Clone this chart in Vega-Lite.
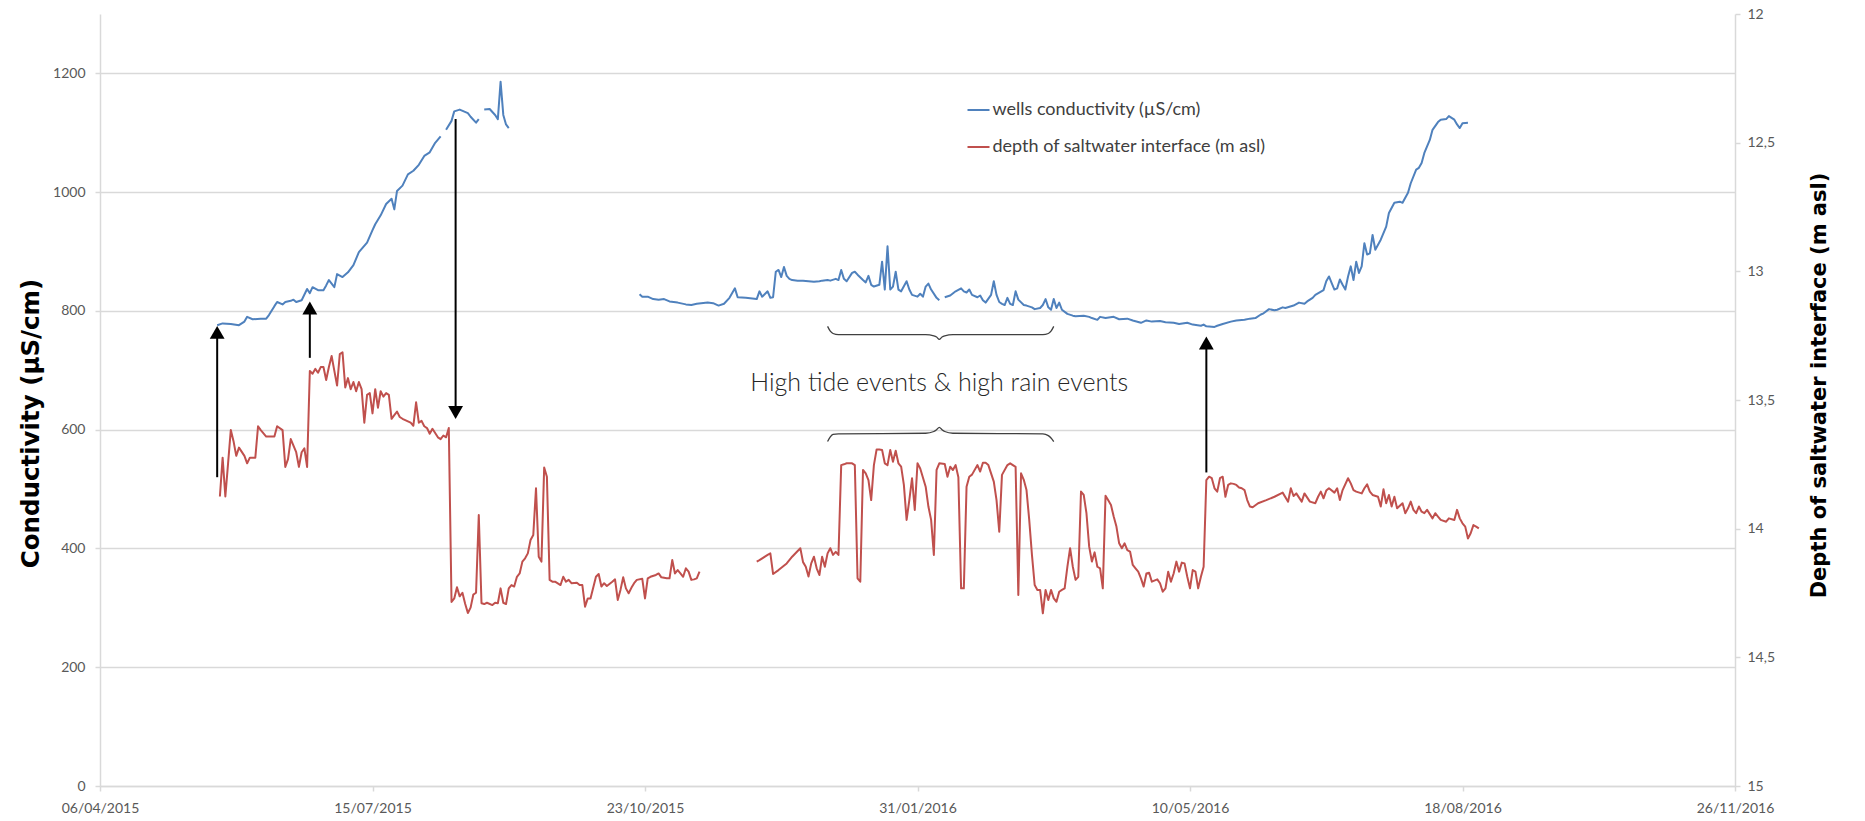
{
  "$schema": "https://vega.github.io/schema/vega-lite/v6.json",
  "width": 1635,
  "height": 772,
  "autosize": {"type": "none"},
  "padding": {"left": 100, "top": 14, "right": 130, "bottom": 35},
  "background": "#ffffff",
  "config": {"view": {"stroke": null}, "font": "Lato", "axis": {"labelFont": "Lato", "titleFont": "DejaVu Sans"}},
  "datasets": {
    "cond": [
      {"date":"2015-05-19","cond":776,"seg":"a"},{"date":"2015-05-21","cond":779,"seg":"a"},{"date":"2015-05-24","cond":778,"seg":"a"},{"date":"2015-05-27","cond":776,"seg":"a"},{"date":"2015-05-29","cond":782,"seg":"a"},{"date":"2015-05-30","cond":790,"seg":"a"},{"date":"2015-06-01","cond":786,"seg":"a"},{"date":"2015-06-04","cond":787,"seg":"a"},{"date":"2015-06-06","cond":787,"seg":"a"},{"date":"2015-06-07","cond":793,"seg":"a"},{"date":"2015-06-09","cond":808,"seg":"a"},{"date":"2015-06-10","cond":815,"seg":"a"},{"date":"2015-06-12","cond":811,"seg":"a"},{"date":"2015-06-13","cond":815,"seg":"a"},{"date":"2015-06-15","cond":817,"seg":"a"},{"date":"2015-06-16","cond":819,"seg":"a"},{"date":"2015-06-17","cond":815,"seg":"a"},{"date":"2015-06-19","cond":818,"seg":"a"},{"date":"2015-06-21","cond":837,"seg":"a"},{"date":"2015-06-22","cond":830,"seg":"a"},{"date":"2015-06-23","cond":840,"seg":"a"},{"date":"2015-06-25","cond":835,"seg":"a"},{"date":"2015-06-27","cond":835,"seg":"a"},{"date":"2015-06-28","cond":843,"seg":"a"},{"date":"2015-06-29","cond":852,"seg":"a"},{"date":"2015-07-01","cond":840,"seg":"a"},{"date":"2015-07-02","cond":862,"seg":"a"},{"date":"2015-07-04","cond":857,"seg":"a"},{"date":"2015-07-06","cond":865,"seg":"a"},{"date":"2015-07-08","cond":877,"seg":"a"},{"date":"2015-07-10","cond":899,"seg":"a"},{"date":"2015-07-13","cond":915,"seg":"a"},{"date":"2015-07-15","cond":936,"seg":"a"},{"date":"2015-07-16","cond":946,"seg":"a"},{"date":"2015-07-18","cond":961,"seg":"a"},{"date":"2015-07-20","cond":980,"seg":"a"},{"date":"2015-07-22","cond":989,"seg":"a"},{"date":"2015-07-23","cond":971,"seg":"a"},{"date":"2015-07-24","cond":1002,"seg":"a"},{"date":"2015-07-26","cond":1011,"seg":"a"},{"date":"2015-07-28","cond":1030,"seg":"a"},{"date":"2015-07-30","cond":1036,"seg":"a"},{"date":"2015-08-01","cond":1046,"seg":"a"},{"date":"2015-08-03","cond":1061,"seg":"a"},{"date":"2015-08-05","cond":1067,"seg":"a"},{"date":"2015-08-07","cond":1083,"seg":"a"},{"date":"2015-08-09","cond":1094,"seg":"a"},
      {"date":"2015-08-11","cond":1105,"seg":"b"},{"date":"2015-08-13","cond":1120,"seg":"b"},{"date":"2015-08-14","cond":1136,"seg":"b"},{"date":"2015-08-16","cond":1139,"seg":"b"},{"date":"2015-08-19","cond":1133,"seg":"b"},{"date":"2015-08-20","cond":1127,"seg":"b"},{"date":"2015-08-22","cond":1117,"seg":"b"},{"date":"2015-08-23","cond":1123,"seg":"b"},
      {"date":"2015-08-25","cond":1139,"seg":"c"},{"date":"2015-08-27","cond":1140,"seg":"c"},{"date":"2015-08-29","cond":1130,"seg":"c"},{"date":"2015-08-30","cond":1123,"seg":"c"},{"date":"2015-08-31","cond":1186,"seg":"c"},{"date":"2015-09-01","cond":1130,"seg":"c"},{"date":"2015-09-02","cond":1114,"seg":"c"},{"date":"2015-09-03","cond":1108,"seg":"c"},
      {"date":"2015-10-21","cond":828,"seg":"d"},{"date":"2015-10-22","cond":824,"seg":"d"},{"date":"2015-10-24","cond":824,"seg":"d"},{"date":"2015-10-26","cond":820,"seg":"d"},{"date":"2015-10-28","cond":819,"seg":"d"},{"date":"2015-10-30","cond":820,"seg":"d"},{"date":"2015-11-01","cond":816,"seg":"d"},{"date":"2015-11-04","cond":814,"seg":"d"},{"date":"2015-11-07","cond":811,"seg":"d"},{"date":"2015-11-09","cond":810,"seg":"d"},{"date":"2015-11-11","cond":812,"seg":"d"},{"date":"2015-11-15","cond":814,"seg":"d"},{"date":"2015-11-17","cond":813,"seg":"d"},{"date":"2015-11-19","cond":809,"seg":"d"},{"date":"2015-11-21","cond":812,"seg":"d"},{"date":"2015-11-23","cond":822,"seg":"d"},{"date":"2015-11-25","cond":838,"seg":"d"},{"date":"2015-11-26","cond":823,"seg":"d"},{"date":"2015-11-29","cond":822,"seg":"d"},{"date":"2015-12-03","cond":820,"seg":"d"},{"date":"2015-12-04","cond":833,"seg":"d"},{"date":"2015-12-05","cond":824,"seg":"d"},{"date":"2015-12-07","cond":833,"seg":"d"},{"date":"2015-12-08","cond":822,"seg":"d"},{"date":"2015-12-09","cond":823,"seg":"d"},{"date":"2015-12-10","cond":866,"seg":"d"},{"date":"2015-12-11","cond":869,"seg":"d"},{"date":"2015-12-12","cond":857,"seg":"d"},{"date":"2015-12-13","cond":874,"seg":"d"},{"date":"2015-12-14","cond":859,"seg":"d"},{"date":"2015-12-15","cond":854,"seg":"d"},{"date":"2015-12-16","cond":852,"seg":"d"},{"date":"2015-12-18","cond":851,"seg":"d"},{"date":"2015-12-20","cond":851,"seg":"d"},{"date":"2015-12-22","cond":850,"seg":"d"},{"date":"2015-12-24","cond":849,"seg":"d"},{"date":"2015-12-26","cond":850,"seg":"d"},{"date":"2015-12-27","cond":851,"seg":"d"},{"date":"2015-12-29","cond":852,"seg":"d"},{"date":"2015-12-30","cond":851,"seg":"d"},{"date":"2016-01-01","cond":854,"seg":"d"},{"date":"2016-01-02","cond":852,"seg":"d"},{"date":"2016-01-03","cond":869,"seg":"d"},{"date":"2016-01-04","cond":854,"seg":"d"},{"date":"2016-01-05","cond":850,"seg":"d"},{"date":"2016-01-07","cond":864,"seg":"d"},{"date":"2016-01-08","cond":866,"seg":"d"},{"date":"2016-01-09","cond":861,"seg":"d"},{"date":"2016-01-11","cond":852,"seg":"d"},{"date":"2016-01-12","cond":848,"seg":"d"},{"date":"2016-01-13","cond":859,"seg":"d"},{"date":"2016-01-14","cond":844,"seg":"d"},{"date":"2016-01-15","cond":841,"seg":"d"},{"date":"2016-01-17","cond":844,"seg":"d"},{"date":"2016-01-18","cond":883,"seg":"d"},{"date":"2016-01-19","cond":836,"seg":"d"},{"date":"2016-01-20","cond":909,"seg":"d"},{"date":"2016-01-21","cond":836,"seg":"d"},{"date":"2016-01-22","cond":841,"seg":"d"},{"date":"2016-01-23","cond":866,"seg":"d"},{"date":"2016-01-24","cond":836,"seg":"d"},{"date":"2016-01-25","cond":833,"seg":"d"},{"date":"2016-01-27","cond":850,"seg":"d"},{"date":"2016-01-28","cond":836,"seg":"d"},{"date":"2016-01-29","cond":827,"seg":"d"},{"date":"2016-01-31","cond":824,"seg":"d"},{"date":"2016-02-01","cond":829,"seg":"d"},{"date":"2016-02-02","cond":824,"seg":"d"},{"date":"2016-02-03","cond":841,"seg":"d"},{"date":"2016-02-04","cond":846,"seg":"d"},{"date":"2016-02-05","cond":836,"seg":"d"},{"date":"2016-02-07","cond":822,"seg":"d"},{"date":"2016-02-08","cond":818,"seg":"d"},
      {"date":"2016-02-10","cond":823,"seg":"e"},{"date":"2016-02-12","cond":826,"seg":"e"},{"date":"2016-02-14","cond":833,"seg":"e"},{"date":"2016-02-16","cond":838,"seg":"e"},{"date":"2016-02-17","cond":833,"seg":"e"},{"date":"2016-02-18","cond":831,"seg":"e"},{"date":"2016-02-19","cond":836,"seg":"e"},{"date":"2016-02-20","cond":827,"seg":"e"},{"date":"2016-02-22","cond":823,"seg":"e"},{"date":"2016-02-23","cond":826,"seg":"e"},{"date":"2016-02-24","cond":818,"seg":"e"},{"date":"2016-02-25","cond":814,"seg":"e"},{"date":"2016-02-27","cond":827,"seg":"e"},{"date":"2016-02-28","cond":850,"seg":"e"},{"date":"2016-02-29","cond":827,"seg":"e"},{"date":"2016-03-01","cond":815,"seg":"e"},{"date":"2016-03-02","cond":812,"seg":"e"},{"date":"2016-03-03","cond":810,"seg":"e"},{"date":"2016-03-04","cond":822,"seg":"e"},{"date":"2016-03-05","cond":812,"seg":"e"},{"date":"2016-03-06","cond":810,"seg":"e"},{"date":"2016-03-07","cond":833,"seg":"e"},{"date":"2016-03-08","cond":819,"seg":"e"},{"date":"2016-03-10","cond":810,"seg":"e"},{"date":"2016-03-11","cond":809,"seg":"e"},{"date":"2016-03-13","cond":806,"seg":"e"},{"date":"2016-03-14","cond":803,"seg":"e"},{"date":"2016-03-16","cond":805,"seg":"e"},{"date":"2016-03-17","cond":810,"seg":"e"},{"date":"2016-03-18","cond":820,"seg":"e"},{"date":"2016-03-19","cond":806,"seg":"e"},{"date":"2016-03-20","cond":802,"seg":"e"},{"date":"2016-03-21","cond":820,"seg":"e"},{"date":"2016-03-22","cond":805,"seg":"e"},{"date":"2016-03-23","cond":814,"seg":"e"},{"date":"2016-03-24","cond":802,"seg":"e"},{"date":"2016-03-26","cond":795,"seg":"e"},{"date":"2016-03-28","cond":792,"seg":"e"},{"date":"2016-03-29","cond":791,"seg":"e"},{"date":"2016-04-01","cond":792,"seg":"e"},{"date":"2016-04-03","cond":790,"seg":"e"},{"date":"2016-04-04","cond":788,"seg":"e"},{"date":"2016-04-06","cond":785,"seg":"e"},{"date":"2016-04-07","cond":790,"seg":"e"},{"date":"2016-04-09","cond":788,"seg":"e"},{"date":"2016-04-12","cond":790,"seg":"e"},{"date":"2016-04-14","cond":786,"seg":"e"},{"date":"2016-04-17","cond":787,"seg":"e"},{"date":"2016-04-19","cond":784,"seg":"e"},{"date":"2016-04-22","cond":780,"seg":"e"},{"date":"2016-04-24","cond":784,"seg":"e"},{"date":"2016-04-26","cond":782,"seg":"e"},{"date":"2016-04-29","cond":783,"seg":"e"},{"date":"2016-05-01","cond":781,"seg":"e"},{"date":"2016-05-04","cond":780,"seg":"e"},{"date":"2016-05-06","cond":778,"seg":"e"},{"date":"2016-05-09","cond":780,"seg":"e"},{"date":"2016-05-11","cond":777,"seg":"e"},{"date":"2016-05-14","cond":775,"seg":"e"},{"date":"2016-05-15","cond":777,"seg":"e"},{"date":"2016-05-16","cond":774,"seg":"e"},{"date":"2016-05-19","cond":773,"seg":"e"},{"date":"2016-05-20","cond":775,"seg":"e"},{"date":"2016-05-22","cond":778,"seg":"e"},{"date":"2016-05-25","cond":782,"seg":"e"},{"date":"2016-05-27","cond":784,"seg":"e"},{"date":"2016-05-30","cond":785,"seg":"e"},{"date":"2016-06-01","cond":787,"seg":"e"},{"date":"2016-06-03","cond":788,"seg":"e"},{"date":"2016-06-05","cond":794,"seg":"e"},{"date":"2016-06-06","cond":796,"seg":"e"},{"date":"2016-06-08","cond":803,"seg":"e"},{"date":"2016-06-10","cond":801,"seg":"e"},{"date":"2016-06-11","cond":802,"seg":"e"},{"date":"2016-06-13","cond":806,"seg":"e"},{"date":"2016-06-14","cond":805,"seg":"e"},{"date":"2016-06-17","cond":809,"seg":"e"},{"date":"2016-06-19","cond":814,"seg":"e"},{"date":"2016-06-21","cond":812,"seg":"e"},{"date":"2016-06-22","cond":816,"seg":"e"},{"date":"2016-06-24","cond":822,"seg":"e"},{"date":"2016-06-25","cond":827,"seg":"e"},{"date":"2016-06-28","cond":835,"seg":"e"},{"date":"2016-06-29","cond":850,"seg":"e"},{"date":"2016-06-30","cond":858,"seg":"e"},{"date":"2016-07-01","cond":847,"seg":"e"},{"date":"2016-07-02","cond":836,"seg":"e"},{"date":"2016-07-03","cond":838,"seg":"e"},{"date":"2016-07-04","cond":853,"seg":"e"},{"date":"2016-07-05","cond":844,"seg":"e"},{"date":"2016-07-06","cond":836,"seg":"e"},{"date":"2016-07-07","cond":858,"seg":"e"},{"date":"2016-07-08","cond":875,"seg":"e"},{"date":"2016-07-09","cond":852,"seg":"e"},{"date":"2016-07-10","cond":883,"seg":"e"},{"date":"2016-07-11","cond":864,"seg":"e"},{"date":"2016-07-12","cond":875,"seg":"e"},{"date":"2016-07-13","cond":914,"seg":"e"},{"date":"2016-07-14","cond":895,"seg":"e"},{"date":"2016-07-15","cond":897,"seg":"e"},{"date":"2016-07-16","cond":928,"seg":"e"},{"date":"2016-07-17","cond":903,"seg":"e"},{"date":"2016-07-19","cond":920,"seg":"e"},{"date":"2016-07-21","cond":942,"seg":"e"},{"date":"2016-07-22","cond":965,"seg":"e"},{"date":"2016-07-24","cond":982,"seg":"e"},{"date":"2016-07-26","cond":984,"seg":"e"},{"date":"2016-07-27","cond":982,"seg":"e"},{"date":"2016-07-29","cond":999,"seg":"e"},{"date":"2016-07-30","cond":1015,"seg":"e"},{"date":"2016-08-01","cond":1038,"seg":"e"},{"date":"2016-08-02","cond":1041,"seg":"e"},{"date":"2016-08-03","cond":1049,"seg":"e"},{"date":"2016-08-04","cond":1066,"seg":"e"},{"date":"2016-08-06","cond":1088,"seg":"e"},{"date":"2016-08-07","cond":1105,"seg":"e"},{"date":"2016-08-09","cond":1118,"seg":"e"},{"date":"2016-08-10","cond":1122,"seg":"e"},{"date":"2016-08-12","cond":1123,"seg":"e"},{"date":"2016-08-13","cond":1128,"seg":"e"},{"date":"2016-08-15","cond":1122,"seg":"e"},{"date":"2016-08-16","cond":1114,"seg":"e"},{"date":"2016-08-17","cond":1108,"seg":"e"},{"date":"2016-08-18","cond":1116,"seg":"e"},{"date":"2016-08-20","cond":1117,"seg":"e"}
    ],
    "depth": [
      {"date":"2015-05-20","depth":13.875,"seg":"a"},{"date":"2015-05-21","depth":13.724,"seg":"a"},{"date":"2015-05-22","depth":13.875,"seg":"a"},{"date":"2015-05-23","depth":13.746,"seg":"a"},{"date":"2015-05-24","depth":13.617,"seg":"a"},{"date":"2015-05-25","depth":13.66,"seg":"a"},{"date":"2015-05-26","depth":13.717,"seg":"a"},{"date":"2015-05-27","depth":13.685,"seg":"a"},{"date":"2015-05-29","depth":13.717,"seg":"a"},{"date":"2015-05-30","depth":13.746,"seg":"a"},{"date":"2015-05-31","depth":13.724,"seg":"a"},{"date":"2015-06-02","depth":13.724,"seg":"a"},{"date":"2015-06-03","depth":13.602,"seg":"a"},{"date":"2015-06-04","depth":13.617,"seg":"a"},{"date":"2015-06-06","depth":13.642,"seg":"a"},{"date":"2015-06-07","depth":13.642,"seg":"a"},{"date":"2015-06-09","depth":13.642,"seg":"a"},{"date":"2015-06-10","depth":13.602,"seg":"a"},{"date":"2015-06-12","depth":13.617,"seg":"a"},{"date":"2015-06-13","depth":13.76,"seg":"a"},{"date":"2015-06-14","depth":13.73,"seg":"a"},{"date":"2015-06-15","depth":13.652,"seg":"a"},{"date":"2015-06-17","depth":13.703,"seg":"a"},{"date":"2015-06-18","depth":13.76,"seg":"a"},{"date":"2015-06-19","depth":13.703,"seg":"a"},{"date":"2015-06-20","depth":13.688,"seg":"a"},{"date":"2015-06-21","depth":13.76,"seg":"a"},{"date":"2015-06-22","depth":13.387,"seg":"a"},{"date":"2015-06-23","depth":13.398,"seg":"a"},{"date":"2015-06-24","depth":13.379,"seg":"a"},{"date":"2015-06-25","depth":13.394,"seg":"a"},{"date":"2015-06-26","depth":13.372,"seg":"a"},{"date":"2015-06-27","depth":13.372,"seg":"a"},{"date":"2015-06-28","depth":13.422,"seg":"a"},{"date":"2015-06-29","depth":13.372,"seg":"a"},{"date":"2015-06-30","depth":13.329,"seg":"a"},{"date":"2015-07-01","depth":13.387,"seg":"a"},{"date":"2015-07-02","depth":13.444,"seg":"a"},{"date":"2015-07-03","depth":13.322,"seg":"a"},{"date":"2015-07-04","depth":13.315,"seg":"a"},{"date":"2015-07-05","depth":13.451,"seg":"a"},{"date":"2015-07-06","depth":13.415,"seg":"a"},{"date":"2015-07-07","depth":13.458,"seg":"a"},{"date":"2015-07-08","depth":13.43,"seg":"a"},{"date":"2015-07-09","depth":13.466,"seg":"a"},{"date":"2015-07-10","depth":13.43,"seg":"a"},{"date":"2015-07-11","depth":13.458,"seg":"a"},{"date":"2015-07-12","depth":13.588,"seg":"a"},{"date":"2015-07-13","depth":13.48,"seg":"a"},{"date":"2015-07-14","depth":13.473,"seg":"a"},{"date":"2015-07-15","depth":13.552,"seg":"a"},{"date":"2015-07-16","depth":13.458,"seg":"a"},{"date":"2015-07-17","depth":13.53,"seg":"a"},{"date":"2015-07-18","depth":13.466,"seg":"a"},{"date":"2015-07-19","depth":13.487,"seg":"a"},{"date":"2015-07-20","depth":13.473,"seg":"a"},{"date":"2015-07-21","depth":13.48,"seg":"a"},{"date":"2015-07-22","depth":13.573,"seg":"a"},{"date":"2015-07-23","depth":13.559,"seg":"a"},{"date":"2015-07-24","depth":13.545,"seg":"a"},{"date":"2015-07-25","depth":13.566,"seg":"a"},{"date":"2015-07-26","depth":13.573,"seg":"a"},{"date":"2015-07-27","depth":13.578,"seg":"a"},{"date":"2015-07-29","depth":13.588,"seg":"a"},{"date":"2015-07-30","depth":13.6,"seg":"a"},{"date":"2015-07-31","depth":13.509,"seg":"a"},{"date":"2015-08-01","depth":13.588,"seg":"a"},{"date":"2015-08-02","depth":13.581,"seg":"a"},{"date":"2015-08-03","depth":13.602,"seg":"a"},{"date":"2015-08-04","depth":13.609,"seg":"a"},{"date":"2015-08-05","depth":13.631,"seg":"a"},{"date":"2015-08-06","depth":13.612,"seg":"a"},{"date":"2015-08-08","depth":13.645,"seg":"a"},{"date":"2015-08-09","depth":13.652,"seg":"a"},{"date":"2015-08-10","depth":13.638,"seg":"a"},{"date":"2015-08-11","depth":13.645,"seg":"a"},{"date":"2015-08-12","depth":13.609,"seg":"a"},{"date":"2015-08-13","depth":14.285,"seg":"a"},{"date":"2015-08-14","depth":14.271,"seg":"a"},{"date":"2015-08-15","depth":14.228,"seg":"a"},{"date":"2015-08-16","depth":14.263,"seg":"a"},{"date":"2015-08-17","depth":14.249,"seg":"a"},{"date":"2015-08-18","depth":14.292,"seg":"a"},{"date":"2015-08-19","depth":14.328,"seg":"a"},{"date":"2015-08-20","depth":14.307,"seg":"a"},{"date":"2015-08-21","depth":14.256,"seg":"a"},{"date":"2015-08-22","depth":14.249,"seg":"a"},{"date":"2015-08-23","depth":13.947,"seg":"a"},{"date":"2015-08-24","depth":14.29,"seg":"a"},{"date":"2015-08-25","depth":14.293,"seg":"a"},{"date":"2015-08-26","depth":14.288,"seg":"a"},{"date":"2015-08-28","depth":14.297,"seg":"a"},{"date":"2015-08-29","depth":14.288,"seg":"a"},{"date":"2015-08-30","depth":14.29,"seg":"a"},{"date":"2015-08-31","depth":14.232,"seg":"a"},{"date":"2015-09-01","depth":14.288,"seg":"a"},{"date":"2015-09-02","depth":14.293,"seg":"a"},{"date":"2015-09-03","depth":14.232,"seg":"a"},{"date":"2015-09-04","depth":14.219,"seg":"a"},{"date":"2015-09-05","depth":14.225,"seg":"a"},{"date":"2015-09-06","depth":14.187,"seg":"a"},{"date":"2015-09-07","depth":14.174,"seg":"a"},{"date":"2015-09-08","depth":14.128,"seg":"a"},{"date":"2015-09-09","depth":14.115,"seg":"a"},{"date":"2015-09-10","depth":14.096,"seg":"a"},{"date":"2015-09-11","depth":14.044,"seg":"a"},{"date":"2015-09-12","depth":14.025,"seg":"a"},{"date":"2015-09-13","depth":13.843,"seg":"a"},{"date":"2015-09-14","depth":14.109,"seg":"a"},{"date":"2015-09-15","depth":14.128,"seg":"a"},{"date":"2015-09-16","depth":13.762,"seg":"a"},{"date":"2015-09-17","depth":13.798,"seg":"a"},{"date":"2015-09-18","depth":14.199,"seg":"a"},{"date":"2015-09-19","depth":14.206,"seg":"a"},{"date":"2015-09-20","depth":14.206,"seg":"a"},{"date":"2015-09-22","depth":14.219,"seg":"a"},{"date":"2015-09-23","depth":14.187,"seg":"a"},{"date":"2015-09-24","depth":14.206,"seg":"a"},{"date":"2015-09-25","depth":14.199,"seg":"a"},{"date":"2015-09-26","depth":14.212,"seg":"a"},{"date":"2015-09-28","depth":14.21,"seg":"a"},{"date":"2015-09-29","depth":14.219,"seg":"a"},{"date":"2015-09-30","depth":14.219,"seg":"a"},{"date":"2015-10-01","depth":14.303,"seg":"a"},{"date":"2015-10-02","depth":14.271,"seg":"a"},{"date":"2015-10-03","depth":14.271,"seg":"a"},{"date":"2015-10-05","depth":14.187,"seg":"a"},{"date":"2015-10-06","depth":14.176,"seg":"a"},{"date":"2015-10-07","depth":14.225,"seg":"a"},{"date":"2015-10-08","depth":14.212,"seg":"a"},{"date":"2015-10-09","depth":14.223,"seg":"a"},{"date":"2015-10-11","depth":14.206,"seg":"a"},{"date":"2015-10-12","depth":14.197,"seg":"a"},{"date":"2015-10-13","depth":14.277,"seg":"a"},{"date":"2015-10-14","depth":14.238,"seg":"a"},{"date":"2015-10-15","depth":14.189,"seg":"a"},{"date":"2015-10-16","depth":14.232,"seg":"a"},{"date":"2015-10-17","depth":14.251,"seg":"a"},{"date":"2015-10-18","depth":14.23,"seg":"a"},{"date":"2015-10-19","depth":14.212,"seg":"a"},{"date":"2015-10-20","depth":14.199,"seg":"a"},{"date":"2015-10-22","depth":14.195,"seg":"a"},{"date":"2015-10-23","depth":14.271,"seg":"a"},{"date":"2015-10-24","depth":14.193,"seg":"a"},{"date":"2015-10-25","depth":14.187,"seg":"a"},{"date":"2015-10-27","depth":14.18,"seg":"a"},{"date":"2015-10-28","depth":14.174,"seg":"a"},{"date":"2015-10-29","depth":14.189,"seg":"a"},{"date":"2015-10-31","depth":14.193,"seg":"a"},{"date":"2015-11-01","depth":14.193,"seg":"a"},{"date":"2015-11-02","depth":14.122,"seg":"a"},{"date":"2015-11-03","depth":14.174,"seg":"a"},{"date":"2015-11-04","depth":14.161,"seg":"a"},{"date":"2015-11-05","depth":14.174,"seg":"a"},{"date":"2015-11-06","depth":14.187,"seg":"a"},{"date":"2015-11-07","depth":14.154,"seg":"a"},{"date":"2015-11-08","depth":14.167,"seg":"a"},{"date":"2015-11-09","depth":14.199,"seg":"a"},{"date":"2015-11-10","depth":14.197,"seg":"a"},{"date":"2015-11-11","depth":14.193,"seg":"a"},{"date":"2015-11-12","depth":14.167,"seg":"a"},
      {"date":"2015-12-03","depth":14.128,"seg":"b"},{"date":"2015-12-04","depth":14.122,"seg":"b"},{"date":"2015-12-07","depth":14.102,"seg":"b"},{"date":"2015-12-08","depth":14.096,"seg":"b"},{"date":"2015-12-09","depth":14.176,"seg":"b"},{"date":"2015-12-11","depth":14.161,"seg":"b"},{"date":"2015-12-14","depth":14.135,"seg":"b"},{"date":"2015-12-16","depth":14.109,"seg":"b"},{"date":"2015-12-19","depth":14.076,"seg":"b"},{"date":"2015-12-20","depth":14.13,"seg":"b"},{"date":"2015-12-21","depth":14.148,"seg":"b"},{"date":"2015-12-22","depth":14.186,"seg":"b"},{"date":"2015-12-23","depth":14.135,"seg":"b"},{"date":"2015-12-24","depth":14.109,"seg":"b"},{"date":"2015-12-25","depth":14.154,"seg":"b"},{"date":"2015-12-26","depth":14.18,"seg":"b"},{"date":"2015-12-27","depth":14.109,"seg":"b"},{"date":"2015-12-28","depth":14.148,"seg":"b"},{"date":"2015-12-29","depth":14.096,"seg":"b"},{"date":"2015-12-30","depth":14.076,"seg":"b"},{"date":"2015-12-31","depth":14.102,"seg":"b"},{"date":"2016-01-01","depth":14.09,"seg":"b"},{"date":"2016-01-02","depth":14.102,"seg":"b"},{"date":"2016-01-03","depth":13.753,"seg":"b"},{"date":"2016-01-04","depth":13.75,"seg":"b"},{"date":"2016-01-05","depth":13.746,"seg":"b"},{"date":"2016-01-07","depth":13.746,"seg":"b"},{"date":"2016-01-08","depth":13.753,"seg":"b"},{"date":"2016-01-09","depth":14.193,"seg":"b"},{"date":"2016-01-10","depth":14.206,"seg":"b"},{"date":"2016-01-11","depth":13.772,"seg":"b"},{"date":"2016-01-12","depth":13.785,"seg":"b"},{"date":"2016-01-13","depth":13.811,"seg":"b"},{"date":"2016-01-14","depth":13.889,"seg":"b"},{"date":"2016-01-15","depth":13.753,"seg":"b"},{"date":"2016-01-16","depth":13.692,"seg":"b"},{"date":"2016-01-17","depth":13.692,"seg":"b"},{"date":"2016-01-18","depth":13.694,"seg":"b"},{"date":"2016-01-19","depth":13.746,"seg":"b"},{"date":"2016-01-20","depth":13.753,"seg":"b"},{"date":"2016-01-21","depth":13.694,"seg":"b"},{"date":"2016-01-22","depth":13.74,"seg":"b"},{"date":"2016-01-23","depth":13.697,"seg":"b"},{"date":"2016-01-24","depth":13.746,"seg":"b"},{"date":"2016-01-25","depth":13.759,"seg":"b"},{"date":"2016-01-26","depth":13.83,"seg":"b"},{"date":"2016-01-27","depth":13.966,"seg":"b"},{"date":"2016-01-28","depth":13.889,"seg":"b"},{"date":"2016-01-29","depth":13.804,"seg":"b"},{"date":"2016-01-30","depth":13.927,"seg":"b"},{"date":"2016-01-31","depth":13.746,"seg":"b"},{"date":"2016-02-01","depth":13.766,"seg":"b"},{"date":"2016-02-03","depth":13.837,"seg":"b"},{"date":"2016-02-04","depth":13.914,"seg":"b"},{"date":"2016-02-05","depth":13.966,"seg":"b"},{"date":"2016-02-06","depth":14.102,"seg":"b"},{"date":"2016-02-07","depth":13.772,"seg":"b"},{"date":"2016-02-08","depth":13.746,"seg":"b"},{"date":"2016-02-10","depth":13.749,"seg":"b"},{"date":"2016-02-11","depth":13.798,"seg":"b"},{"date":"2016-02-12","depth":13.759,"seg":"b"},{"date":"2016-02-13","depth":13.772,"seg":"b"},{"date":"2016-02-14","depth":13.753,"seg":"b"},{"date":"2016-02-15","depth":13.8,"seg":"b"},{"date":"2016-02-16","depth":14.232,"seg":"b"},{"date":"2016-02-17","depth":14.232,"seg":"b"},{"date":"2016-02-18","depth":13.837,"seg":"b"},{"date":"2016-02-19","depth":13.798,"seg":"b"},{"date":"2016-02-20","depth":13.79,"seg":"b"},{"date":"2016-02-22","depth":13.753,"seg":"b"},{"date":"2016-02-23","depth":13.778,"seg":"b"},{"date":"2016-02-24","depth":13.744,"seg":"b"},{"date":"2016-02-25","depth":13.744,"seg":"b"},{"date":"2016-02-26","depth":13.753,"seg":"b"},{"date":"2016-02-28","depth":13.817,"seg":"b"},{"date":"2016-02-29","depth":13.889,"seg":"b"},{"date":"2016-03-01","depth":14.012,"seg":"b"},{"date":"2016-03-02","depth":13.791,"seg":"b"},{"date":"2016-03-04","depth":13.753,"seg":"b"},{"date":"2016-03-05","depth":13.746,"seg":"b"},{"date":"2016-03-06","depth":13.753,"seg":"b"},{"date":"2016-03-07","depth":13.76,"seg":"b"},{"date":"2016-03-08","depth":14.258,"seg":"b"},{"date":"2016-03-09","depth":13.785,"seg":"b"},{"date":"2016-03-10","depth":13.81,"seg":"b"},{"date":"2016-03-11","depth":13.85,"seg":"b"},{"date":"2016-03-12","depth":13.966,"seg":"b"},{"date":"2016-03-13","depth":14.102,"seg":"b"},{"date":"2016-03-14","depth":14.219,"seg":"b"},{"date":"2016-03-15","depth":14.238,"seg":"b"},{"date":"2016-03-16","depth":14.238,"seg":"b"},{"date":"2016-03-17","depth":14.329,"seg":"b"},{"date":"2016-03-18","depth":14.238,"seg":"b"},{"date":"2016-03-19","depth":14.277,"seg":"b"},{"date":"2016-03-20","depth":14.238,"seg":"b"},{"date":"2016-03-21","depth":14.271,"seg":"b"},{"date":"2016-03-22","depth":14.284,"seg":"b"},{"date":"2016-03-23","depth":14.245,"seg":"b"},{"date":"2016-03-24","depth":14.238,"seg":"b"},{"date":"2016-03-25","depth":14.232,"seg":"b"},{"date":"2016-03-26","depth":14.148,"seg":"b"},{"date":"2016-03-27","depth":14.076,"seg":"b"},{"date":"2016-03-28","depth":14.148,"seg":"b"},{"date":"2016-03-29","depth":14.199,"seg":"b"},{"date":"2016-03-30","depth":14.187,"seg":"b"},{"date":"2016-03-31","depth":13.856,"seg":"b"},{"date":"2016-04-01","depth":13.869,"seg":"b"},{"date":"2016-04-02","depth":13.94,"seg":"b"},{"date":"2016-04-03","depth":14.07,"seg":"b"},{"date":"2016-04-04","depth":14.128,"seg":"b"},{"date":"2016-04-05","depth":14.092,"seg":"b"},{"date":"2016-04-06","depth":14.148,"seg":"b"},{"date":"2016-04-07","depth":14.154,"seg":"b"},{"date":"2016-04-08","depth":14.232,"seg":"b"},{"date":"2016-04-09","depth":13.872,"seg":"b"},{"date":"2016-04-10","depth":13.89,"seg":"b"},{"date":"2016-04-11","depth":13.908,"seg":"b"},{"date":"2016-04-12","depth":13.953,"seg":"b"},{"date":"2016-04-13","depth":13.992,"seg":"b"},{"date":"2016-04-14","depth":14.057,"seg":"b"},{"date":"2016-04-15","depth":14.076,"seg":"b"},{"date":"2016-04-16","depth":14.057,"seg":"b"},{"date":"2016-04-17","depth":14.083,"seg":"b"},{"date":"2016-04-18","depth":14.089,"seg":"b"},{"date":"2016-04-19","depth":14.141,"seg":"b"},{"date":"2016-04-20","depth":14.154,"seg":"b"},{"date":"2016-04-21","depth":14.167,"seg":"b"},{"date":"2016-04-22","depth":14.193,"seg":"b"},{"date":"2016-04-23","depth":14.225,"seg":"b"},{"date":"2016-04-24","depth":14.174,"seg":"b"},{"date":"2016-04-25","depth":14.171,"seg":"b"},{"date":"2016-04-26","depth":14.206,"seg":"b"},{"date":"2016-04-28","depth":14.197,"seg":"b"},{"date":"2016-04-29","depth":14.212,"seg":"b"},{"date":"2016-04-30","depth":14.245,"seg":"b"},{"date":"2016-05-01","depth":14.232,"seg":"b"},{"date":"2016-05-02","depth":14.167,"seg":"b"},{"date":"2016-05-03","depth":14.206,"seg":"b"},{"date":"2016-05-04","depth":14.174,"seg":"b"},{"date":"2016-05-05","depth":14.128,"seg":"b"},{"date":"2016-05-06","depth":14.167,"seg":"b"},{"date":"2016-05-07","depth":14.132,"seg":"b"},{"date":"2016-05-08","depth":14.135,"seg":"b"},{"date":"2016-05-09","depth":14.187,"seg":"b"},{"date":"2016-05-10","depth":14.232,"seg":"b"},{"date":"2016-05-11","depth":14.161,"seg":"b"},{"date":"2016-05-12","depth":14.167,"seg":"b"},{"date":"2016-05-13","depth":14.232,"seg":"b"},{"date":"2016-05-14","depth":14.187,"seg":"b"},{"date":"2016-05-15","depth":14.148,"seg":"b"},{"date":"2016-05-16","depth":13.811,"seg":"b"},{"date":"2016-05-17","depth":13.798,"seg":"b"},{"date":"2016-05-18","depth":13.804,"seg":"b"},{"date":"2016-05-19","depth":13.843,"seg":"b"},{"date":"2016-05-20","depth":13.856,"seg":"b"},{"date":"2016-05-21","depth":13.804,"seg":"b"},{"date":"2016-05-22","depth":13.798,"seg":"b"},{"date":"2016-05-23","depth":13.876,"seg":"b"},{"date":"2016-05-24","depth":13.83,"seg":"b"},{"date":"2016-05-25","depth":13.824,"seg":"b"},{"date":"2016-05-26","depth":13.826,"seg":"b"},{"date":"2016-05-27","depth":13.83,"seg":"b"},{"date":"2016-05-28","depth":13.84,"seg":"b"},{"date":"2016-05-29","depth":13.843,"seg":"b"},{"date":"2016-05-30","depth":13.85,"seg":"b"},{"date":"2016-05-31","depth":13.889,"seg":"b"},{"date":"2016-06-01","depth":13.914,"seg":"b"},{"date":"2016-06-02","depth":13.917,"seg":"b"},{"date":"2016-06-04","depth":13.901,"seg":"b"},{"date":"2016-06-07","depth":13.889,"seg":"b"},{"date":"2016-06-10","depth":13.876,"seg":"b"},{"date":"2016-06-13","depth":13.86,"seg":"b"},{"date":"2016-06-15","depth":13.895,"seg":"b"},{"date":"2016-06-16","depth":13.843,"seg":"b"},{"date":"2016-06-17","depth":13.873,"seg":"b"},{"date":"2016-06-18","depth":13.863,"seg":"b"},{"date":"2016-06-20","depth":13.895,"seg":"b"},{"date":"2016-06-21","depth":13.863,"seg":"b"},{"date":"2016-06-23","depth":13.895,"seg":"b"},{"date":"2016-06-25","depth":13.901,"seg":"b"},{"date":"2016-06-26","depth":13.876,"seg":"b"},{"date":"2016-06-27","depth":13.856,"seg":"b"},{"date":"2016-06-28","depth":13.882,"seg":"b"},{"date":"2016-06-29","depth":13.852,"seg":"b"},{"date":"2016-06-30","depth":13.843,"seg":"b"},{"date":"2016-07-02","depth":13.86,"seg":"b"},{"date":"2016-07-03","depth":13.843,"seg":"b"},{"date":"2016-07-04","depth":13.889,"seg":"b"},{"date":"2016-07-05","depth":13.85,"seg":"b"},{"date":"2016-07-07","depth":13.804,"seg":"b"},{"date":"2016-07-08","depth":13.824,"seg":"b"},{"date":"2016-07-09","depth":13.85,"seg":"b"},{"date":"2016-07-10","depth":13.856,"seg":"b"},{"date":"2016-07-12","depth":13.863,"seg":"b"},{"date":"2016-07-13","depth":13.843,"seg":"b"},{"date":"2016-07-14","depth":13.828,"seg":"b"},{"date":"2016-07-15","depth":13.856,"seg":"b"},{"date":"2016-07-16","depth":13.869,"seg":"b"},{"date":"2016-07-18","depth":13.876,"seg":"b"},{"date":"2016-07-19","depth":13.914,"seg":"b"},{"date":"2016-07-20","depth":13.847,"seg":"b"},{"date":"2016-07-21","depth":13.901,"seg":"b"},{"date":"2016-07-22","depth":13.869,"seg":"b"},{"date":"2016-07-23","depth":13.914,"seg":"b"},{"date":"2016-07-24","depth":13.876,"seg":"b"},{"date":"2016-07-25","depth":13.921,"seg":"b"},{"date":"2016-07-27","depth":13.901,"seg":"b"},{"date":"2016-07-28","depth":13.94,"seg":"b"},{"date":"2016-07-29","depth":13.921,"seg":"b"},{"date":"2016-07-30","depth":13.895,"seg":"b"},{"date":"2016-07-31","depth":13.927,"seg":"b"},{"date":"2016-08-01","depth":13.94,"seg":"b"},{"date":"2016-08-02","depth":13.914,"seg":"b"},{"date":"2016-08-03","depth":13.934,"seg":"b"},{"date":"2016-08-04","depth":13.94,"seg":"b"},{"date":"2016-08-05","depth":13.927,"seg":"b"},{"date":"2016-08-07","depth":13.96,"seg":"b"},{"date":"2016-08-08","depth":13.94,"seg":"b"},{"date":"2016-08-09","depth":13.953,"seg":"b"},{"date":"2016-08-10","depth":13.966,"seg":"b"},{"date":"2016-08-12","depth":13.973,"seg":"b"},{"date":"2016-08-13","depth":13.96,"seg":"b"},{"date":"2016-08-15","depth":13.966,"seg":"b"},{"date":"2016-08-16","depth":13.927,"seg":"b"},{"date":"2016-08-17","depth":13.96,"seg":"b"},{"date":"2016-08-18","depth":13.979,"seg":"b"},{"date":"2016-08-19","depth":13.992,"seg":"b"},{"date":"2016-08-20","depth":14.038,"seg":"b"},{"date":"2016-08-21","depth":14.018,"seg":"b"},{"date":"2016-08-22","depth":13.986,"seg":"b"},{"date":"2016-08-23","depth":13.992,"seg":"b"},{"date":"2016-08-24","depth":13.999,"seg":"b"}
    ],
    "arrows": [
      {"date":"2015-05-19","from":520,"to":764,"dir":"up"},
      {"date":"2015-06-22","from":721,"to":805,"dir":"up"},
      {"date":"2015-08-14T12:00:00Z","from":1123,"to":629,"dir":"down"},
      {"date":"2016-05-16","from":528,"to":746,"dir":"up"}
    ],
    "braces": [
      {"brace":"upper","date":"2015-12-29","level":774},{"brace":"upper","date":"2015-12-30","level":766},{"brace":"upper","date":"2015-12-31","level":762},{"brace":"upper","date":"2016-01-02","level":760},{"brace":"upper","date":"2016-02-03","level":760},{"brace":"upper","date":"2016-02-06","level":758},{"brace":"upper","date":"2016-02-07","level":756},{"brace":"upper","date":"2016-02-08","level":752},{"brace":"upper","date":"2016-02-09","level":756},{"brace":"upper","date":"2016-02-10","level":758},{"brace":"upper","date":"2016-02-13","level":760},{"brace":"upper","date":"2016-03-17","level":760},{"brace":"upper","date":"2016-03-19","level":762},{"brace":"upper","date":"2016-03-20","level":766},{"brace":"upper","date":"2016-03-21","level":774},
      {"brace":"lower","date":"2015-12-29","level":580},{"brace":"lower","date":"2015-12-30","level":588},{"brace":"lower","date":"2015-12-31","level":592},{"brace":"lower","date":"2016-01-02","level":593},{"brace":"lower","date":"2016-02-03","level":594},{"brace":"lower","date":"2016-02-06","level":597},{"brace":"lower","date":"2016-02-07","level":600},{"brace":"lower","date":"2016-02-08","level":604},{"brace":"lower","date":"2016-02-09","level":600},{"brace":"lower","date":"2016-02-10","level":597},{"brace":"lower","date":"2016-02-13","level":594},{"brace":"lower","date":"2016-03-17","level":593},{"brace":"lower","date":"2016-03-19","level":590},{"brace":"lower","date":"2016-03-20","level":586},{"brace":"lower","date":"2016-03-21","level":580}
    ],
    "notes": [
      {"date":"2016-02-08","level":679,"label":"High tide events & high rain events"}
    ]
  },
  "layer": [
    {
      "data": {"name": "cond"},
      "mark": {"type": "line", "strokeWidth": 2, "strokeJoin": "round"},
      "encoding": {
        "x": {
          "field": "date", "type": "temporal",
          "scale": {"type": "utc", "domain": [{"year": 2015, "month": "apr", "date": 6, "utc": true}, {"year": 2016, "month": "nov", "date": 26, "utc": true}]},
          "axis": {
            "values": [
              {"year": 2015, "month": "apr", "date": 6, "utc": true},
              {"year": 2015, "month": "jul", "date": 15, "utc": true},
              {"year": 2015, "month": "oct", "date": 23, "utc": true},
              {"year": 2016, "month": "jan", "date": 31, "utc": true},
              {"year": 2016, "month": "may", "date": 10, "utc": true},
              {"year": 2016, "month": "aug", "date": 18, "utc": true},
              {"year": 2016, "month": "nov", "date": 26, "utc": true}
            ],
            "format": "%d/%m/%Y", "title": null, "grid": false,
            "domainColor": "#d9d9d9", "domainWidth": 1.5, "tickColor": "#d9d9d9", "tickWidth": 1.5, "tickSize": 5,
            "labelPadding": 10, "labelFontSize": 14, "labelColor": "#595959", "labelFlush": false, "labelOverlap": false, "labelBound": false
          }
        },
        "y": {
          "field": "cond", "type": "quantitative",
          "scale": {"domain": [0, 1300], "nice": false, "zero": false},
          "axis": {
            "orient": "left", "values": [0, 200, 400, 600, 800, 1000, 1200], "format": "d",
            "grid": true, "gridColor": "#d9d9d9", "gridWidth": 1.5,
            "domainColor": "#d9d9d9", "domainWidth": 1.5, "tickColor": "#d9d9d9", "tickWidth": 1.5, "tickSize": 5,
            "labelPadding": 10, "labelFontSize": 14, "labelColor": "#595959",
            "title": "Conductivity  (µS/cm)", "titleFont": "DejaVu Sans", "titleFontSize": 24.5, "titleFontWeight": "bold", "titleColor": "#000000",
            "titleAngle": -90, "titleAlign": "center", "titleBaseline": "middle", "titleX": -69, "titleY": 409
          }
        },
        "detail": {"field": "seg", "type": "nominal"},
        "color": {
          "datum": "wells conductivity (µS/cm)",
          "scale": {"domain": ["wells conductivity (µS/cm)", "depth of saltwater interface (m asl)"], "range": ["#4F81BD", "#C0504D"]},
          "legend": {
            "orient": "none", "legendX": 866.5, "legendY": 84, "title": null, "direction": "vertical",
            "symbolType": "stroke", "symbolSize": 484, "symbolStrokeWidth": 2,
            "labelFont": "Lato", "labelFontSize": 18, "labelColor": "#404040", "labelOffset": 2, "labelLimit": 0,
            "rowPadding": 16, "padding": 0
          }
        }
      }
    },
    {
      "data": {"name": "depth"},
      "mark": {"type": "line", "strokeWidth": 2, "strokeJoin": "round"},
      "encoding": {
        "x": {"field": "date", "type": "temporal", "scale": {"type": "utc"}},
        "y": {
          "field": "depth", "type": "quantitative",
          "scale": {"domain": [12, 15], "reverse": true, "nice": false, "zero": false},
          "axis": {
            "orient": "right", "values": [12, 12.5, 13, 13.5, 14, 14.5, 15],
            "labelExpr": "replace(format(datum.value, '.1~f'), '.', ',')",
            "grid": false, "domainColor": "#d9d9d9", "domainWidth": 1.5, "tickColor": "#d9d9d9", "tickWidth": 1.5, "tickSize": 5,
            "labelPadding": 7, "labelFontSize": 14, "labelColor": "#595959",
            "title": "Depth of saltwater interface (m asl)", "titleFont": "DejaVu Sans", "titleFontSize": 21, "titleFontWeight": "bold", "titleColor": "#000000",
            "titleAngle": -90, "titleAlign": "center", "titleBaseline": "middle", "titleX": 84, "titleY": 371
          }
        },
        "detail": {"field": "seg", "type": "nominal"},
        "color": {"datum": "depth of saltwater interface (m asl)"}
      }
    },
    {
      "data": {"name": "arrows"},
      "mark": {"type": "rule", "color": "#000000", "strokeWidth": 2},
      "encoding": {
        "x": {"field": "date", "type": "temporal", "scale": {"type": "utc"}},
        "y": {"field": "from", "type": "quantitative", "scale": {"domain": [0, 1300], "nice": false, "zero": false}, "axis": null},
        "y2": {"field": "to"}
      }
    },
    {
      "data": {"name": "arrows"},
      "mark": {"type": "point", "filled": true, "color": "#000000", "size": 220, "opacity": 1},
      "encoding": {
        "x": {"field": "date", "type": "temporal", "scale": {"type": "utc"}},
        "y": {"field": "to", "type": "quantitative", "scale": {"domain": [0, 1300], "nice": false, "zero": false}, "axis": null},
        "shape": {"field": "dir", "type": "nominal", "scale": {"domain": ["up", "down"], "range": ["triangle-up", "triangle-down"]}, "legend": null}
      }
    },
    {
      "data": {"name": "braces"},
      "mark": {"type": "line", "interpolate": "monotone", "color": "#404040", "strokeWidth": 1.3},
      "encoding": {
        "x": {"field": "date", "type": "temporal", "scale": {"type": "utc"}},
        "y": {"field": "level", "type": "quantitative", "scale": {"domain": [0, 1300], "nice": false, "zero": false}, "axis": null},
        "detail": {"field": "brace", "type": "nominal"}
      }
    },
    {
      "data": {"name": "notes"},
      "mark": {"type": "text", "font": "Lato", "fontSize": 25, "fontWeight": 300, "color": "#262626", "align": "center", "baseline": "middle"},
      "encoding": {
        "x": {"field": "date", "type": "temporal", "scale": {"type": "utc"}},
        "y": {"field": "level", "type": "quantitative", "scale": {"domain": [0, 1300], "nice": false, "zero": false}, "axis": null},
        "text": {"field": "label"}
      }
    }
  ],
  "resolve": {"scale": {"y": "independent"}}
}
